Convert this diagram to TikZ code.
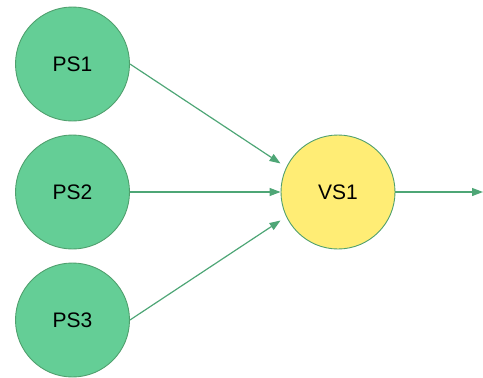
\documentclass[tikz,border=0pt]{standalone}
\usepackage{fontspec}
\setmainfont{Liberation Sans}
\usetikzlibrary{arrows.meta,calc}
\definecolor{psfill}{RGB}{100,206,150}
\definecolor{psline}{RGB}{80,160,110}
\definecolor{vsfill}{RGB}{255,237,117}
\definecolor{arr}{RGB}{78,166,118}
\begin{document}
\begin{tikzpicture}[x=1pt,y=-1pt,
  ps/.style={circle,draw=psline,fill=psfill,line width=0.9pt,minimum size=114pt,inner sep=0pt,font=\fontsize{21}{24}\selectfont},
  vs/.style={ps,fill=vsfill},
  conn/.style={draw=arr,line width=1.2pt,-{Triangle[length=11pt,width=8pt]}}]
\useasboundingbox (0,0) rectangle (483,378);
\node[ps] (PS1) at (72.5,64) {PS1};
\node[ps] (PS2) at (72.5,192) {PS2};
\node[ps] (PS3) at (72.5,320) {PS3};
\node[vs] (VS1) at (338,192) {VS1};
\coordinate (out) at (483,192);
\draw[conn] (PS1.east) -- ($(VS1.west)+(0,-28.5)$);
\draw[conn] (PS2.east) -- (VS1.west);
\draw[conn] (PS3.east) -- ($(VS1.west)+(0,28.5)$);
\draw[conn] (VS1.east) -- (out);
\end{tikzpicture}
\end{document}
